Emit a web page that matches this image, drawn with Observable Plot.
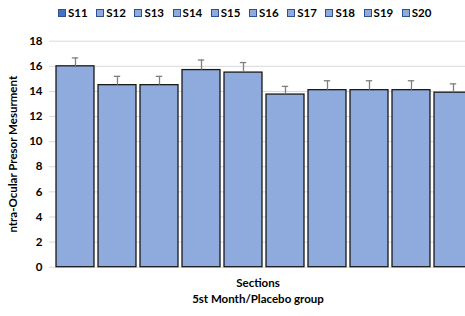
<!DOCTYPE html>
<html>
<head>
<meta charset="utf-8">
<script src="https://cdn.jsdelivr.net/npm/d3@7"></script>
<script src="https://cdn.jsdelivr.net/npm/@observablehq/plot@0.6"></script>
<style>
  html, body { margin: 0; padding: 0; background: #fff; }
  #wrap { position: relative; width: 465px; height: 316px; overflow: hidden; font-family: Lato, "Open Sans", sans-serif; font-weight: bold; color: #000; }
  #legend { position: absolute; left: 0; top: 0; width: 465px; height: 28px; }
  .item { position: absolute; top: 6px; font-size: 11.5px; line-height: 14px; white-space: nowrap; }
  .sw { display: inline-block; width: 6px; height: 6px; border: 1px solid #2f528f; margin-right: 2px; vertical-align: 0px; }
  #chart { position: absolute; left: 0; top: 28px; }
  .cap { position: absolute; left: 0; width: 516px; text-align: center; font-size: 11.5px; }
</style>
</head>
<body>
<div id="wrap">
  <div id="legend"></div>
  <div id="chart"></div>
  <div class="cap" style="top:276px">Sections</div>
  <div class="cap" style="top:292px">5st Month/Placebo group</div>
</div>
<script>
const sections = ["S11","S12","S13","S14","S15","S16","S17","S18","S19","S20"];
const values = [16.0, 14.5, 14.5, 15.7, 15.5, 13.75, 14.1, 14.1, 14.1, 13.9];
const errors = [0.67, 0.7, 0.7, 0.8, 0.8, 0.65, 0.75, 0.75, 0.75, 0.7];
const legendFills = ["#4472c4","#8faadc","#8faadc","#8faadc","#8faadc","#8faadc","#8faadc","#8faadc","#8faadc","#8faadc"];
const yTicks = [0,2,4,6,8,10,12,14,16,18];

const data = sections.map((s, i) => ({section: s, value: values[i], err: values[i] + errors[i]}));

// legend
const legend = document.getElementById("legend");
sections.forEach((s, i) => {
  const d = document.createElement("div");
  d.className = "item";
  d.style.left = (58 + i * 38.2) + "px";
  d.innerHTML = `<span class="sw" style="background:${legendFills[i]}"></span>${s}`;
  legend.appendChild(d);
});

const chart = Plot.plot({
  width: 465,
  height: 248,
  marginLeft: 49,
  marginRight: -13,
  marginTop: 12.7,
  marginBottom: 9.3,
  style: {fontFamily: "Lato, 'Open Sans', sans-serif", fontWeight: "bold", fontSize: "11.5px", color: "#000", overflow: "hidden"},
  x: {domain: sections, padding: 0.1, axis: null},
  y: {domain: [0, 18], ticks: yTicks},
  marks: [
    Plot.gridY(yTicks, {stroke: "#d9d9d9", strokeOpacity: 1, strokeWidth: 1}),
    Plot.axisY(yTicks, {tickSize: 0, tickPadding: 7, label: "ntra-Ocular Presor Mesurment", labelAnchor: "center", labelArrow: "none", labelOffset: 41, fontSize: 11.5}),
    Plot.barY(data, {x: "section", y: "value", fill: "#8faadc", stroke: "#1a1a1a", strokeWidth: 1.3}),
    Plot.ruleX(data, {x: "section", y1: "value", y2: "err", stroke: "#7f7f7f", strokeWidth: 1.3}),
    Plot.tickY(data, {x: "section", y: "err", stroke: "#7f7f7f", strokeWidth: 1.3, insetLeft: 15.8, insetRight: 15.8})
  ]
});
document.getElementById("chart").appendChild(chart);
</script>
</body>
</html>
